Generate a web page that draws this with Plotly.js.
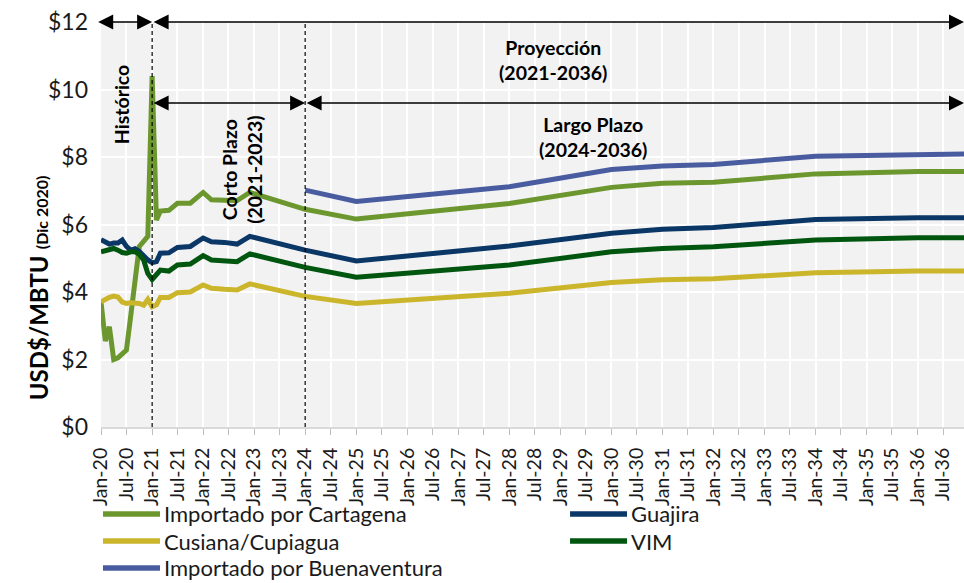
<!DOCTYPE html>
<html>
<head>
<meta charset="utf-8">
<script src="https://cdn.plot.ly/plotly-3.0.1.min.js"></script>
<style>html,body{margin:0;padding:0;background:#fff;}#chart{width:964px;height:583px;}</style>
</head>
<body>
<div id="chart"></div>
<script>
// Month points (YYYY-MM)
var months = ['2020-01','2020-02','2020-03','2020-04','2020-05','2020-06','2020-07','2020-08','2020-09','2020-10','2020-11','2020-12',
  '2021-01','2021-02','2021-03','2021-05','2021-07','2021-10','2022-01','2022-03','2022-06','2022-09','2022-12',
  '2024-01','2025-01','2028-01','2030-01','2031-01','2032-01','2034-01','2036-01','2036-12'];

var cartagena = [3.70,2.55,2.97,2.00,2.05,2.15,2.28,3.30,4.40,5.35,5.50,5.65,
  10.40,6.13,6.40,6.42,6.63,6.63,6.95,6.73,6.72,6.71,6.95,
  6.45,6.16,6.62,7.10,7.22,7.25,7.50,7.57,7.57];
var guajira = [5.55,5.48,5.42,5.45,5.45,5.54,5.35,5.24,5.28,5.20,5.05,4.95,
  4.87,4.90,5.15,5.16,5.32,5.35,5.60,5.49,5.47,5.42,5.65,
  5.24,4.92,5.36,5.74,5.86,5.91,6.15,6.20,6.20];
var cusiana = [3.71,3.80,3.84,3.88,3.85,3.70,3.66,3.68,3.68,3.66,3.61,3.78,
  3.56,3.62,3.84,3.84,3.98,4.00,4.21,4.11,4.08,4.06,4.24,
  3.87,3.66,3.96,4.28,4.36,4.39,4.57,4.62,4.62];
var vim = [5.19,5.22,5.25,5.29,5.24,5.17,5.15,5.19,5.19,5.12,4.95,4.55,
  4.37,4.50,4.65,4.62,4.80,4.83,5.08,4.95,4.92,4.90,5.13,
  4.73,4.44,4.80,5.19,5.29,5.34,5.54,5.61,5.61];
var buenaventura = [null,null,null,null,null,null,null,null,null,null,null,null,
  null,null,null,null,null,null,null,null,null,null,null,
  7.02,6.68,7.12,7.63,7.73,7.78,8.02,8.09,8.09];

var seriesNames = ['Importado por Cartagena','Guajira','Cusiana/Cupiagua','VIM','Importado por Buenaventura'];
var seriesColors = ['#6c972f','#0b3766','#cbb52b','#00560f','#4a5ca0'];
var seriesData = [cartagena, guajira, cusiana, vim, buenaventura];

var FONT = 'Lato, "Open Sans", sans-serif';
var traces = seriesData.map(function(v,i){
  return {x: months, y: v, name: seriesNames[i], type:'scatter', mode:'lines',
    line:{color: seriesColors[i], width:5}, connectgaps:false, showlegend:false};
});

function arrow(x0,x1,y){
  return {x:x1, y:y, ax:x0, ay:y, xref:'x', yref:'y', axref:'x', ayref:'y', text:'',
    showarrow:true, arrowside:'end+start', arrowhead:2, startarrowhead:2,
    arrowsize:2, startarrowsize:2, arrowwidth:1.5, arrowcolor:'#000', standoff:0, startstandoff:0};
}
function label(x,y,txt,angle){
  return {x:x, y:y, xref:'x', yref:'y', text:txt, showarrow:false, textangle:angle||0,
    font:{family:FONT, size:19.5, color:'#000'}, align:'center'};
}
var xEnd = '2036-11-28';
var annotations = [
  arrow('2019-12-01','2021-01-01',12),
  arrow('2021-01-01',xEnd,12),
  arrow('2021-01-01','2024-01-01',9.6),
  arrow('2024-01-01',xEnd,9.6),
  label('2020-05-24',9.54,'<b>Histórico</b>',-90),
  label('2022-10-04',7.61,'<b>Corto Plazo</b><br><b>(2021-2023)</b>',-90),
  label('2028-11-06',10.87,'<b>Proyección</b><br><b>(2021-2036)</b>'),
  label('2029-08-25',8.59,'<b>Largo Plazo</b><br><b>(2024-2036)</b>'),
  {xref:'paper', yref:'paper', x:-0.0915, y:0.344, textangle:-90, showarrow:false,
   text:'<b>USD$/MBTU</b> <b><span style="font-size:16px">(Dic 2020)</span></b>',
   font:{family:FONT, size:24, color:'#000'}}
];
var shapes = ['2021-01-01','2024-01-01'].map(function(d){
  return {type:'line', xref:'x', yref:'y', x0:d, x1:d, y0:0, y1:12,
    line:{color:'#000', width:1.2, dash:'4px,3px'}};
});

// Legend drawn as a two-column key below the axis (paper coordinates)
var legCols = [[0.0023,0.0684,0.0718],[0.5435,0.6095,0.6130]];
var legRows = [-0.2148,-0.2815,-0.3481];
seriesNames.forEach(function(n,i){
  var c = legCols[i%2], r = legRows[Math.floor(i/2)];
  shapes.push({type:'line', xref:'paper', yref:'paper', x0:c[0], x1:c[1], y0:r, y1:r,
    line:{color:seriesColors[i], width:5.5}});
  annotations.push({xref:'paper', yref:'paper', x:c[2], y:r, xanchor:'left', yanchor:'middle',
    text:n, showarrow:false, borderpad:0, font:{family:FONT, size:22, color:'#1a1a1a'}});
});

var layout = {
  width:964, height:583,
  margin:{l:101, r:0, t:22, b:156},
  paper_bgcolor:'#ffffff', plot_bgcolor:'#f2f2f2',
  font:{family:FONT, color:'#1a1a1a'},
  showlegend:false,
  xaxis:{type:'date', range:['2020-01-01', xEnd], tick0:'2020-01-01', dtick:'M6',
    tickformat:'%b-%y', tickangle:-90, tickfont:{family:FONT, size:19.5, color:'#1a1a1a'},
    showgrid:true, gridcolor:'#ffffff', gridwidth:2, ticks:'outside', ticklen:6,
    tickcolor:'#bfbfbf', showline:true, linecolor:'#d9d9d9', linewidth:2, zeroline:false,
    ticklabelstandoff:5},
  yaxis:{range:[0,12], dtick:2, tickprefix:'$', tickfont:{family:FONT, size:23, color:'#1a1a1a'},
    showgrid:true, gridcolor:'#ffffff', gridwidth:2, zeroline:false, ticks:'', ticklabelstandoff:12,
    showline:false},
  annotations: annotations,
  shapes: shapes
};
Plotly.newPlot('chart', traces, layout, {displayModeBar:false, staticPlot:true});
</script>
</body>
</html>
